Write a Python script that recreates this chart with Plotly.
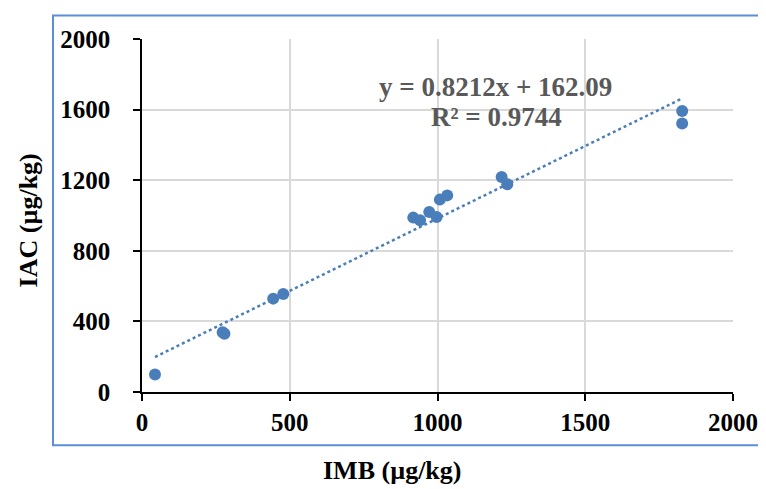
import plotly.graph_objects as go

# Data
imb = [44, 273, 279, 444, 478, 918, 941, 972, 997, 1008, 1033, 1217, 1236, 1828, 1828]
iac = [99, 338, 330, 529, 555, 988, 973, 1020, 992, 1090, 1114, 1218, 1177, 1592, 1521]

slope = 0.8212
intercept = 162.09
eq_text = "y = 0.8212x + 162.09"
r2_text = "R² = 0.9744"

x_ticks = [0, 500, 1000, 1500, 2000]
y_ticks = [0, 400, 800, 1200, 1600, 2000]

blue = "#4A7EBB"
FONT = "Liberation Serif, Times New Roman, serif"

trend_x = [min(imb), max(imb)]
trend_y = [slope * v + intercept for v in trend_x]

fig = go.Figure()
fig.add_trace(go.Scatter(x=trend_x, y=trend_y, mode="lines",
                         line=dict(color=blue, width=2.5, dash="dot"),
                         hoverinfo="skip", showlegend=False))
fig.add_trace(go.Scatter(x=imb, y=iac, mode="markers",
                         marker=dict(color=blue, size=12, line=dict(width=0)),
                         showlegend=False))

# page body has an 8px default margin, so figure coords = page coords - 8
OFF = 8
W, H = 766 - OFF, 489 - OFF
L, R, T, B = 142 - OFF, 733 - OFF, 38.5 - OFF, 391.7 - OFF
pw, ph = R - L, B - T

def px(x):
    return (x - OFF - L) / pw

def py(y):
    return (B - (y - OFF)) / ph

fig.update_layout(
    width=W, height=H,
    margin=dict(l=L, r=W - R, t=T, b=H - B, pad=0),
    paper_bgcolor="white", plot_bgcolor="white",
    font=dict(family=FONT, color="black"),
    xaxis=dict(range=[0, 2000], tickvals=x_ticks, showgrid=True,
               gridcolor="#D9D9D9", gridwidth=1.5,
               showline=True, linecolor="black", linewidth=1.5,
               ticks="outside", ticklen=7, tickcolor="black", tickwidth=1.5,
               zeroline=False, automargin=False,
               tickfont=dict(family=FONT, size=25, color="black", weight="bold"),
               ticklabelstandoff=0),
    yaxis=dict(range=[0, 2000], tickvals=y_ticks, showgrid=True,
               gridcolor="#D9D9D9", gridwidth=1.5,
               showline=True, linecolor="black", linewidth=1.5,
               ticks="outside", ticklen=7, tickcolor="black", tickwidth=1.5,
               zeroline=False, automargin=False,
               tickfont=dict(family=FONT, size=25, color="black", weight="bold"),
               ticklabelstandoff=18),
    shapes=[dict(type="rect", xref="paper", yref="paper",
                 x0=px(53), x1=px(790), y0=py(445), y1=py(15),
                 line=dict(color="#5B8ED6", width=2), fillcolor="rgba(0,0,0,0)",
                 layer="below")],
    annotations=[
        dict(text="IMB (µg/kg)", xref="paper", yref="paper",
             x=px(392), y=py(470), xanchor="center", yanchor="middle",
             showarrow=False,
             font=dict(family=FONT, size=26, color="black", weight="bold")),
        dict(text="IAC (µg/kg)", xref="paper", yref="paper",
             x=px(28), y=py(220), xanchor="center", yanchor="middle",
             textangle=-90, showarrow=False,
             font=dict(family=FONT, size=26, color="black", weight="bold")),
        dict(text=eq_text, xref="paper", yref="paper",
             x=px(495), y=py(87), xanchor="center", yanchor="middle",
             showarrow=False,
             font=dict(family=FONT, size=27, color="#595959", weight="bold")),
        dict(text=r2_text, xref="paper", yref="paper",
             x=px(496), y=py(117), xanchor="center", yanchor="middle",
             showarrow=False,
             font=dict(family=FONT, size=27, color="#595959", weight="bold")),
    ],
)

fig.write_html("out.html")
